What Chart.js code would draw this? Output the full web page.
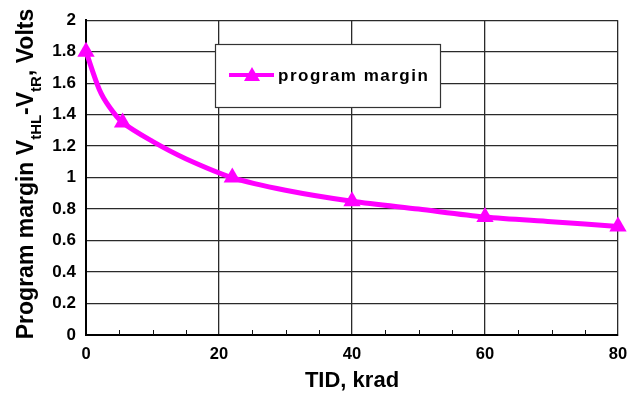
<!DOCTYPE html>
<html>
<head>
<meta charset="utf-8">
<script src="https://cdn.jsdelivr.net/npm/chart.js@4"></script>
<style>
  html, body { margin: 0; padding: 0; background: #fff; }
  #wrap { width: 639px; height: 396px; position: relative; }
</style>
</head>
<body>
<div id="wrap"><canvas id="margin_chart"></canvas></div>
<script>
// TID dose (krad) and program margin (V)
const tid = [0, 2, 3.5, 5.5, 10, 15, 22, 30, 40, 50, 60, 70, 80];
const margin = [1.8, 1.56, 1.45, 1.35, 1.23, 1.12, 1.0, 0.92, 0.85, 0.8, 0.75, 0.72, 0.69];
// which points carry a triangle marker
const marked = [true, false, false, true, false, false, true, false, true, false, true, false, true];
const yTicks = [0, 0.2, 0.4, 0.6, 0.8, 1, 1.2, 1.4, 1.6, 1.8, 2];
const xTicks = [0, 20, 40, 60, 80];
const seriesName = 'program margin';

const MAGENTA = '#ff00ff';
const FONT = '"Liberation Sans", Arial, sans-serif';

document.addEventListener("DOMContentLoaded", function () {
    const ctx = document.getElementById("margin_chart").getContext('2d');

    // minor ticks along the bottom axis + axis titles + boxed legend
    const extras = {
        id: 'extras',
        afterDraw(chart) {
            const c = chart.ctx;
            const xs = chart.scales.x;
            const area = chart.chartArea;
            c.save();
            c.strokeStyle = '#111';
            c.lineWidth = 1;
            for (let v = 0; v <= 80; v += 5) {
                if (v % 20 === 0) continue;
                const px = Math.round(xs.getPixelForValue(v)) + 0.5;
                c.beginPath();
                c.moveTo(px, area.bottom);
                c.lineTo(px, area.bottom - 5);
                c.stroke();
            }

            // x title
            c.fillStyle = '#000';
            c.font = 'bold 22px ' + FONT;
            c.textAlign = 'center';
            c.textBaseline = 'alphabetic';
            c.fillText('TID, krad', (area.left + area.right) / 2, 387);

            // y title with subscripts
            c.translate(33, 174);
            c.rotate(-Math.PI / 2);
            const parts = [
                ['Program margin V', false],
                ['tHL', true],
                ['-V', false],
                ['tR', true],
                [', Volts', false]
            ];
            const big = 'bold 23px ' + FONT;
            const small = 'bold 15px ' + FONT;
            let total = 0;
            parts.forEach(p => { c.font = p[1] ? small : big; total += c.measureText(p[0]).width; });
            let x = -total / 2;
            c.textAlign = 'left';
            parts.forEach(p => {
                c.font = p[1] ? small : big;
                c.fillText(p[0], x, p[1] ? 8 : 0);
                x += c.measureText(p[0]).width;
            });
            c.restore();

            // legend box
            c.save();
            c.fillStyle = '#fff';
            c.strokeStyle = '#333';
            c.lineWidth = 1.2;
            c.fillRect(215, 44, 225, 63);
            c.strokeRect(215.5, 44.5, 225, 63);
            c.strokeStyle = MAGENTA;
            c.lineWidth = 4;
            c.beginPath();
            c.moveTo(229, 75);
            c.lineTo(274, 75);
            c.stroke();
            c.fillStyle = MAGENTA;
            c.beginPath();
            c.moveTo(252, 67);
            c.lineTo(260, 81);
            c.lineTo(244, 81);
            c.closePath();
            c.fill();
            c.fillStyle = '#000';
            c.font = 'bold 17px ' + FONT;
            c.letterSpacing = '1.5px';
            c.textBaseline = 'middle';
            c.fillText(seriesName, 278, 76);
            c.restore();
        }
    };

    new Chart(ctx, {
        type: 'line',
        data: {
            datasets: [{
                label: seriesName,
                data: tid.map((t, i) => ({ x: t, y: margin[i] })),
                borderColor: MAGENTA,
                backgroundColor: MAGENTA,
                borderWidth: 5,
                tension: 0.3,
                pointStyle: 'triangle',
                pointRadius: marked.map(m => m ? 10 : 0),
                pointHoverRadius: marked.map(m => m ? 10 : 0),
                pointBorderWidth: 0,
                clip: false
            }]
        },
        options: {
            responsive: true,
            maintainAspectRatio: false,
            animation: false,
            events: [],
            layout: { padding: { top: 14, right: 21, left: 0, bottom: 0 } },
            plugins: {
                legend: { display: false },
                tooltip: { enabled: false }
            },
            scales: {
                x: {
                    type: 'linear',
                    min: 0,
                    max: 80,
                    afterBuildTicks: s => { s.ticks = xTicks.map(v => ({ value: v })); },
                    afterFit: s => { s.height = 61; },
                    ticks: {
                        color: '#000',
                        font: { family: FONT, size: 16.5, weight: 'bold' },
                        padding: 10,
                        maxRotation: 0
                    },
                    grid: { color: '#2a2a2a', lineWidth: 1.3, drawTicks: false },
                    border: { color: '#000', width: 2 }
                },
                y: {
                    min: 0,
                    max: 2,
                    afterBuildTicks: s => { s.ticks = yTicks.map(v => ({ value: v })); },
                    afterFit: s => { s.width = 86; },
                    ticks: {
                        color: '#000',
                        font: { family: FONT, size: 17, weight: 'bold' },
                        padding: 10,
                        callback: v => String(Math.round(v * 10) / 10)
                    },
                    grid: { color: '#2a2a2a', lineWidth: 1.3, drawTicks: false },
                    border: { color: '#000', width: 2 }
                }
            }
        },
        plugins: [extras]
    });
});
</script>
</body>
</html>
